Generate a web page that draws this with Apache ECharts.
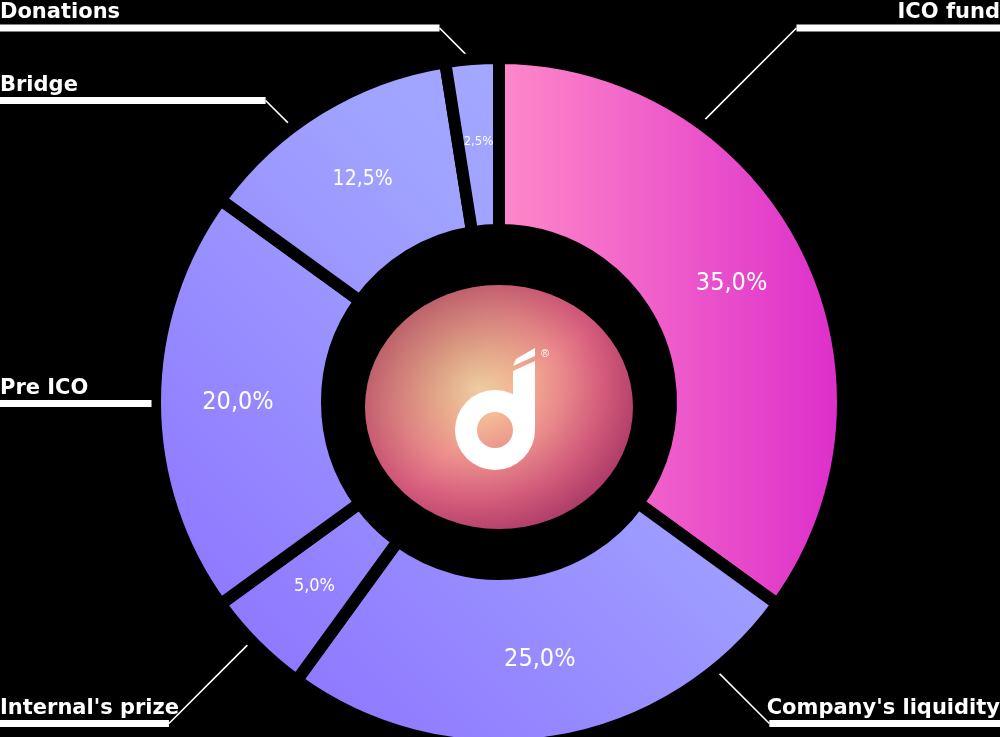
<!DOCTYPE html>
<html>
<head>
<meta charset="utf-8">
<script src="https://cdn.jsdelivr.net/npm/echarts@6/dist/echarts.min.js"></script>
<style>
html,body{margin:0;padding:0;background:#000;}
#main{width:1000px;height:737px;}
</style>
</head>
<body>
<div id="main"></div>
<script>
// ---------------- DATA ----------------
const categories = ["ICO fund", "Company's liquidity", "Internal's prize", "Pre ICO", "Bridge", "Donations"];
const shares = [35.0, 25.0, 5.0, 20.0, 12.5, 2.5];

// ---------------- LAYOUT / STYLE ----------------
const W = 1000, H = 737;
const CX = 499, CY = 402, R_IN = 172, R_OUT = 344;
const GUIDE_R = 346;
// where each name label's leader line leaves the ring (deg clockwise from 12 o'clock) and the row of its underline
const labelAnchorDeg = [36, 141, 226, 270, 323, 355];
const labelRowY = [28, 723.5, 723.5, 403.5, 100.5, 28];

const purple = {
  type: 'linear', x: 160, y: 740, x2: 840, y2: 60, global: true,
  colorStops: [
    {offset: 0, color: '#8a6cff'},
    {offset: 0.6, color: '#a0a2ff'},
    {offset: 1, color: '#a8b2ff'}
  ]
};
const pink = {
  type: 'linear', x: 0, y: 0, x2: 1, y2: 0,
  colorStops: [
    {offset: 0, color: '#ff8ac8'},
    {offset: 1, color: '#dc2ccb'}
  ]
};
const sliceColors = [pink, purple, purple, purple, purple, purple];

function guide(i) {
  const a = labelAnchorDeg[i] * Math.PI / 180;
  const ax = CX + GUIDE_R * Math.sin(a), ay = CY - GUIDE_R * Math.cos(a);
  const right = Math.sin(a) > 0.001;
  const L = labelRowY[i];
  const d = Math.abs(L - ay);
  const ex = right ? ax + d : ax - d;
  return {ax, ay, ex, ey: L, right, bar: right ? W - ex : ex};
}
const guides = categories.map((_, i) => guide(i));

const nameFont = {color: '#fff', fontSize: 21, fontWeight: 'bold', fontFamily: "'DejaVu Sans', 'Open Sans', sans-serif", lineHeight: 21};

function pctFont(v) {
  return v >= 20 ? 25 : v >= 10 ? 21 : v >= 5 ? 18 : 13;
}

const chart = echarts.init(document.getElementById('main'), null, {renderer: 'canvas'});

const option = {
  backgroundColor: '#000',
  animation: false,
  graphic: [
    {
      type: 'circle', x: 499, y: 407, scaleY: 122 / 134, silent: true, z: 0,
      shape: {cx: 0, cy: 0, r: 134},
      style: {
        fill: {
          type: 'radial', x: 0.42, y: 0.42, r: 0.62,
          colorStops: [
            {offset: 0, color: '#f8d6a8'},
            {offset: 0.25, color: '#f3b494'},
            {offset: 0.5, color: '#ec8c8c'},
            {offset: 0.75, color: '#d85e7e'},
            {offset: 1, color: '#b43e6c'}
          ]
        }
      }
    },
    {
      type: 'circle', x: 499, y: 407, scaleY: 122 / 134, silent: true, z: 1,
      shape: {cx: 0, cy: 0, r: 134},
      style: {
        fill: {
          type: 'linear', x: 0, y: 0, x2: 1, y2: 1,
          colorStops: [
            {offset: 0, color: 'rgba(90,50,40,0.4)'},
            {offset: 0.5, color: 'rgba(90,50,40,0)'},
            {offset: 1, color: 'rgba(70,0,50,0.1)'}
          ]
        }
      }
    },
    {type: 'ring', silent: true, z: 2, shape: {cx: 495, cy: 430, r: 40, r0: 18}, style: {fill: '#fff'}},
    {type: 'polygon', silent: true, z: 2, shape: {points: [[513, 371], [535, 361], [535, 430], [513, 430]]}, style: {fill: '#fff'}},
    {type: 'polygon', silent: true, z: 2, shape: {points: [[513, 366], [535, 356], [535, 348], [516, 359]]}, style: {fill: '#fff'}},
    {type: 'text', silent: true, z: 2, x: 545, y: 354, style: {text: '®', fill: '#fff', fontSize: 11, align: 'center', verticalAlign: 'middle'}}
  ],
  series: [
    {
      type: 'pie',
      center: [CX, CY],
      radius: [R_IN, R_OUT],
      startAngle: 90,
      clockwise: true,
      avoidLabelOverlap: false,
      silent: true,
      itemStyle: {borderColor: '#000', borderWidth: 12, borderJoin: 'miter'},
      label: {show: true, position: 'outside'},
      labelLine: {show: true, length: 20, length2: 20, lineStyle: {color: '#fff', width: 1.6}},
      labelLayout: function (params) {
        const g = guides[params.dataIndex];
        return {
          x: g.right ? W : 0,
          y: g.ey + 3.5,
          align: g.right ? 'right' : 'left',
          verticalAlign: 'bottom',
          labelLinePoints: [[g.ax, g.ay], [g.ex, g.ey], [g.ex, g.ey]]
        };
      },
      data: categories.map((name, i) => {
        const g = guides[i];
        const side = g.right ? 'right' : 'left';
        return {
          name: name,
          value: shares[i],
          itemStyle: {color: sliceColors[i]},
          label: {
            formatter: '{t|{b}}\n{gap|}\n{bar|}',
            rich: {
              t: Object.assign({align: side}, nameFont),
              gap: {height: 1, lineHeight: 1},
              bar: {backgroundColor: '#fff', width: g.bar, height: 7, lineHeight: 7, align: side}
            }
          }
        };
      })
    },
    {
      type: 'pie',
      center: [CX, CY],
      radius: [R_IN, R_OUT],
      startAngle: 90,
      clockwise: true,
      silent: true,
      z: 3,
      itemStyle: {color: 'rgba(0,0,0,0)', borderWidth: 0},
      labelLine: {show: false},
      data: categories.map((name, i) => ({
        name: name,
        value: shares[i],
        label: {
          show: true,
          position: 'inside',
          color: '#fff',
          fontWeight: 500,
          fontFamily: "'Liberation Sans Narrow', 'DejaVu Sans Condensed', 'Roboto', sans-serif",
          fontSize: pctFont(shares[i]),
          formatter: function (p) { return p.value.toFixed(1).replace('.', ',') + '%'; }
        }
      }))
    }
  ]
};
chart.setOption(option);
</script>
</body>
</html>
